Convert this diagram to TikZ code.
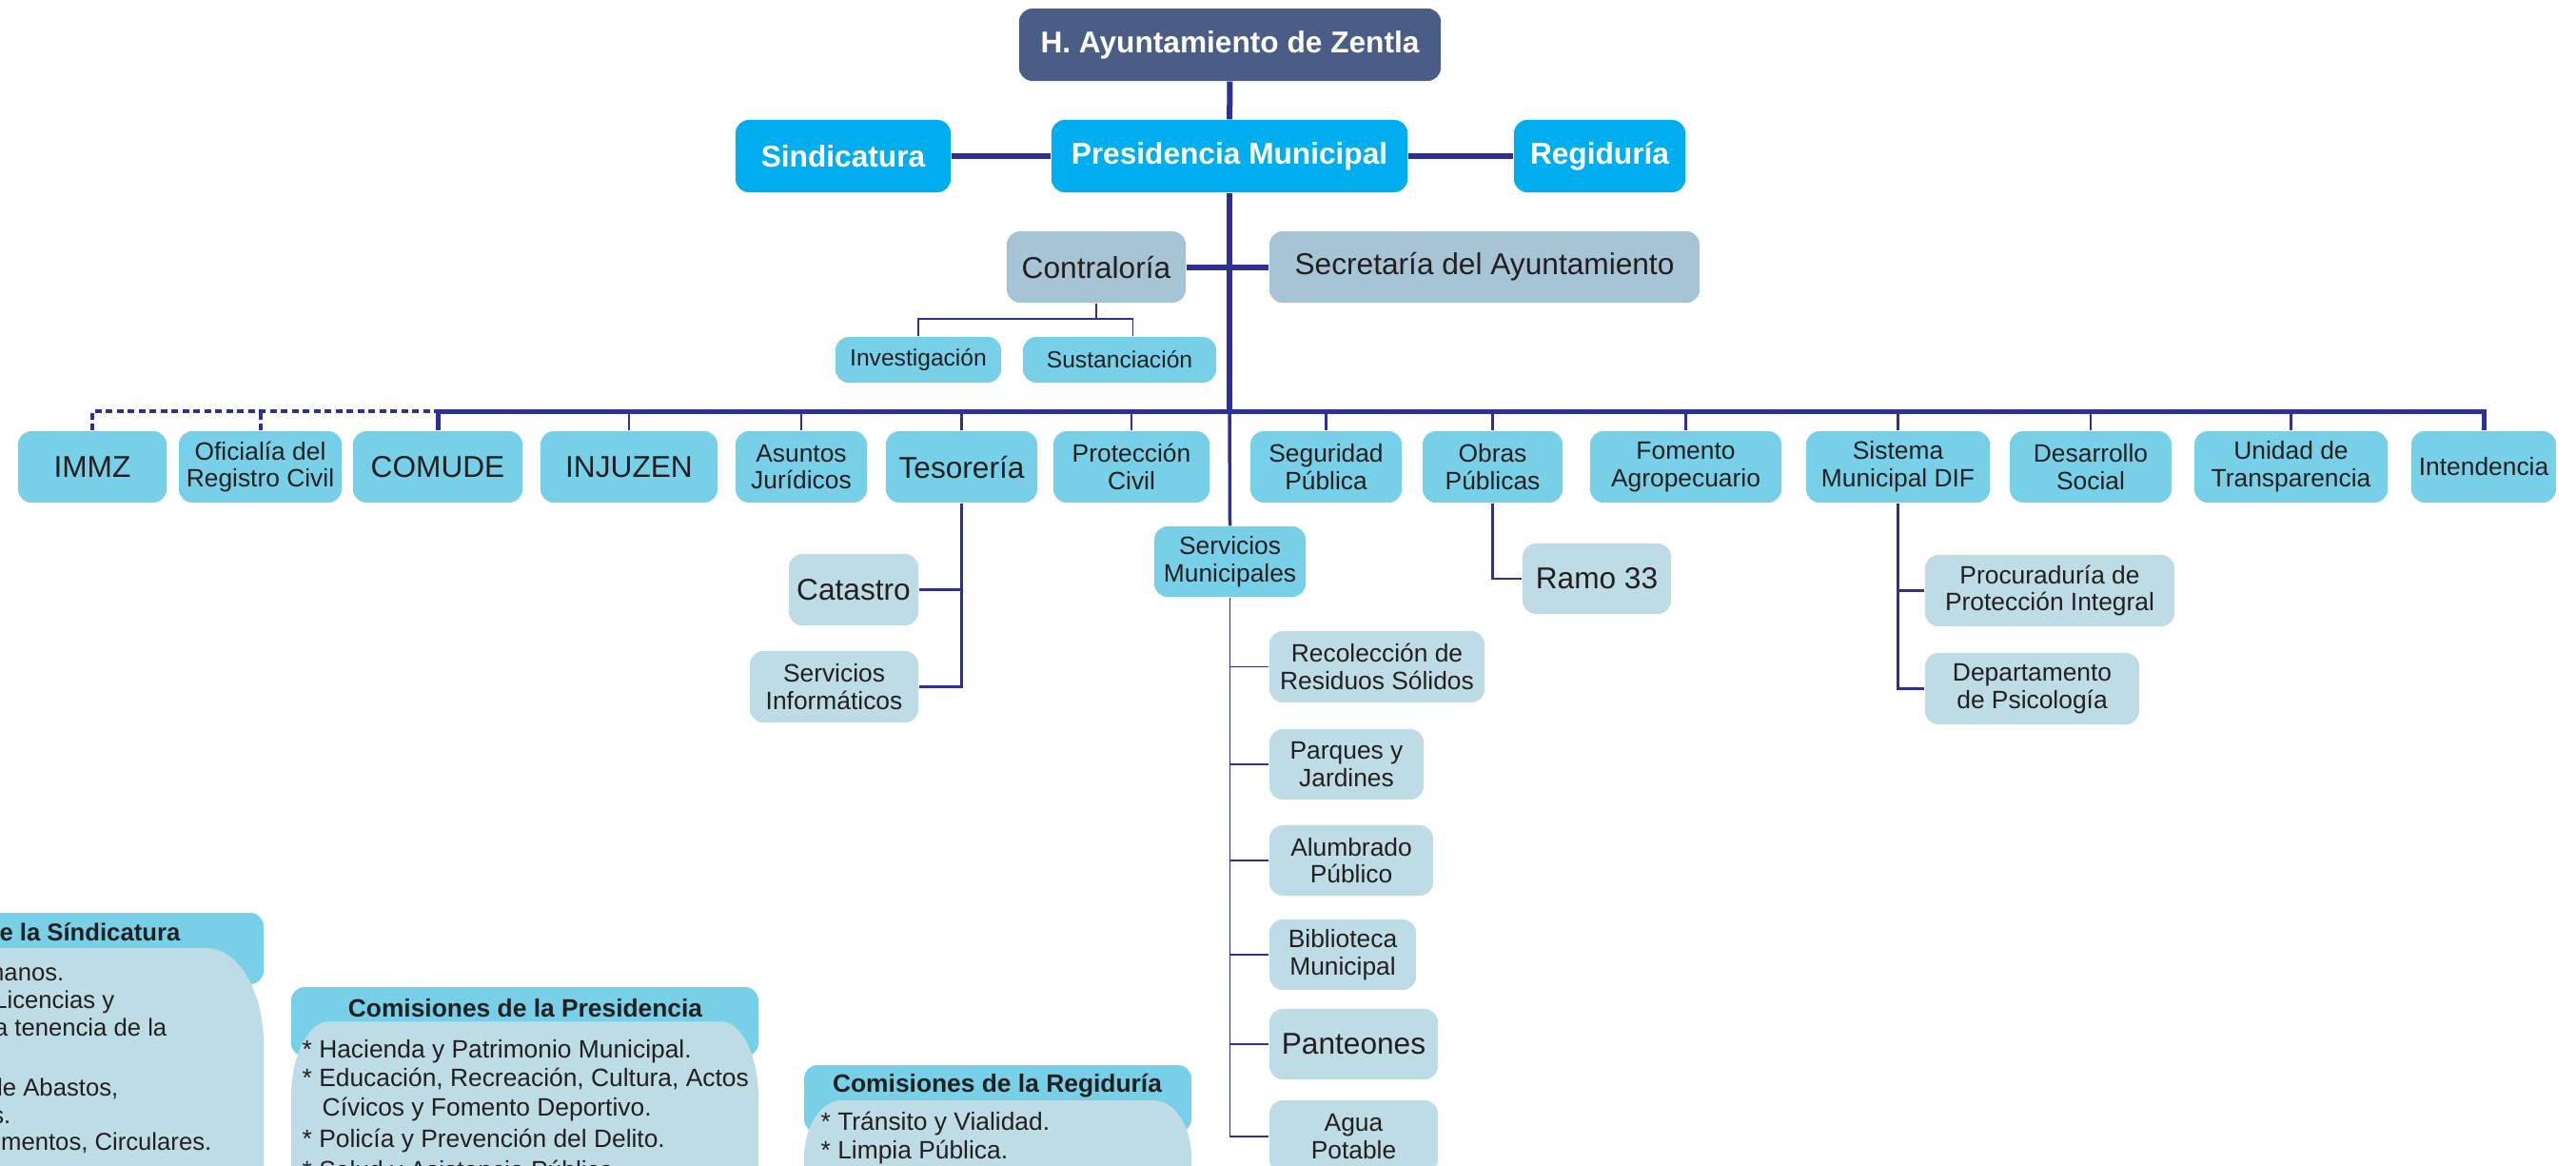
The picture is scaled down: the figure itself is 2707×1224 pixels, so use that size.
\documentclass[tikz,border=0pt]{standalone}
\usepackage{fontspec}
\setmainfont{Liberation Sans}

\definecolor{ayun}   {RGB}{74,93,135}
\definecolor{mando}  {RGB}{0,174,239}
\definecolor{apoyo}  {RGB}{167,196,212}
\definecolor{area}   {RGB}{120,208,232}
\definecolor{subarea}{RGB}{190,220,230}
\definecolor{linea}  {RGB}{46,49,146}
\definecolor{letra}  {RGB}{35,31,32}

\tikzset{
  caja/.style={rounded corners=0.14cm, inner sep=0pt, align=center,
               minimum height=0.75cm, text=letra},
  grande/.style={font=\fontsize{9}{10.8}\selectfont},
  chica/.style={font=\fontsize{7.5}{8.2}\selectfont},
  mini/.style={font=\fontsize{7}{8}\selectfont},
  cabeza/.style={caja, fill=ayun, text=white, font=\fontsize{9}{10.8}\selectfont\bfseries},
  mandobox/.style={caja, fill=mando, text=white, font=\fontsize{9}{10.8}\selectfont\bfseries},
  apoyobox/.style={caja, grande, fill=apoyo},
  areabox/.style={caja, fill=area},
  subbox/.style={caja, fill=subarea},
  texto/.style={inner sep=0pt, text=letra, font=\fontsize{7.5}{9}\selectfont},
  textosind/.style={inner sep=0pt, text=letra, font=\fontsize{7.3}{9}\selectfont},
  grueso/.style={draw=linea, line width=0.06cm},
  barra/.style={draw=linea, line width=0.05cm},
  medio/.style={draw=linea, line width=0.035cm},
  rama/.style={draw=linea, line width=0.025cm},
  fino/.style={draw=linea, line width=0.018cm},
  punteado/.style={draw=linea, line width=0.04cm, dash pattern=on 0.07cm off 0.045cm},
}

\begin{document}
\begin{tikzpicture}[x=0.01cm, y=-0.01cm]
    \useasboundingbox (0,0) rectangle (2707,1224);
    \clip (0,0) rectangle (2707,1224);

    % mando
    \node[cabeza, minimum width=4.43cm, minimum height=0.76cm] (ayto) at (1292.5,47) {H. Ayuntamiento de Zentla};
    \node[mandobox, minimum width=2.26cm, minimum height=0.76cm] (sind) at (886,164) {Sindicatura};
    \node[mandobox, minimum width=3.74cm, minimum height=0.76cm] (pres) at (1292,164) {Presidencia Municipal};
    \node[mandobox, minimum width=1.80cm, minimum height=0.76cm] (regi) at (1681,164) {Regiduría};

    \node[apoyobox, minimum width=1.88cm] (contra) at (1152,280.5) {Contraloría};
    \node[apoyobox, minimum width=4.52cm] (secre) at (1560,280.5) {Secretaría del Ayuntamiento};
    \node[areabox, mini, minimum width=1.74cm, minimum height=0.48cm] (inves) at (965,378) {Investigación};
    \node[areabox, mini, minimum width=2.03cm, minimum height=0.48cm] (susta) at (1176.5,378) {Sustanciación};

    % areas
    \node[areabox, grande, minimum width=1.56cm] (immz) at (97,490.5) {IMMZ};
    \node[areabox, chica, minimum width=1.71cm] (ofic) at (273.5,490.5) {Oficialía del\\Registro Civil};
    \node[areabox, grande, minimum width=1.78cm] (comude) at (460,490.5) {COMUDE};
    \node[areabox, grande, minimum width=1.86cm] (injuzen) at (661,490.5) {INJUZEN};
    \node[areabox, chica, minimum width=1.38cm] (asuntos) at (842,490.5) {Asuntos\\Jurídicos};
    \node[areabox, grande, minimum width=1.59cm] (teso) at (1010.5,490.5) {Tesorería};
    \node[areabox, chica, minimum width=1.64cm] (prote) at (1189,490.5) {Protección\\Civil};
    \node[areabox, chica, minimum width=1.59cm] (segu) at (1393.5,490.5) {Seguridad\\Pública};
    \node[areabox, chica, minimum width=1.47cm] (obras) at (1568.5,490.5) {Obras\\Públicas};
    \node[areabox, chica, minimum width=2.01cm] (fomento) at (1771.5,490.5) {Fomento\\Agropecuario};
    \node[areabox, chica, minimum width=1.93cm] (dif) at (1994.5,490.5) {Sistema\\Municipal DIF};
    \node[areabox, chica, minimum width=1.70cm] (desarrollo) at (2197,490.5) {Desarrollo\\Social};
    \node[areabox, chica, minimum width=2.03cm] (transp) at (2407.5,490.5) {Unidad de\\Transparencia};
    \node[areabox, chica, minimum width=1.52cm] (intend) at (2610,490.5) {Intendencia};
    \node[areabox, chica, minimum width=1.59cm, minimum height=0.74cm] (servmun) at (1292.5,590) {Servicios\\Municipales};

    % sub areas
    \node[subbox, grande, minimum width=1.36cm] (catastro) at (897,619.5) {Catastro};
    \node[subbox, chica, minimum width=1.77cm] (servinf) at (876.5,721.5) {Servicios\\Informáticos};
    \node[subbox, grande, minimum width=1.56cm, minimum height=0.74cm] (ramo) at (1678,608) {Ramo 33};
    \node[subbox, chica, minimum width=2.62cm] (procu) at (2154,620.5) {Procuraduría de\\Protección Integral};
    \node[subbox, chica, minimum width=2.25cm] (depto) at (2135.5,723.5) {Departamento\\de Psicología};
    \node[subbox, chica, minimum width=2.26cm] (recol) at (1447,700.5) {Recolección de\\Residuos Sólidos};
    \node[subbox, chica, minimum width=1.62cm, minimum height=0.74cm] (parques) at (1415,803) {Parques y\\Jardines};
    \node[subbox, chica, minimum width=1.72cm, minimum height=0.74cm] (alumb) at (1420,904) {Alumbrado\\Público};
    \node[subbox, chica, minimum width=1.54cm, minimum height=0.74cm] (biblio) at (1411,1003) {Biblioteca\\Municipal};
    \node[subbox, grande, minimum width=1.77cm, minimum height=0.74cm] (panteo) at (1422.5,1097) {Panteones};
    \node[subbox, chica, minimum width=1.77cm, minimum height=0.76cm] (agua) at (1422.5,1194) {Agua\\Potable};

    % lineas de mando
    \coordinate (busL) at (462,432);
    \coordinate (cnudo) at (1152,335);
    \draw[grueso] (ayto) -- (pres);
    \draw[grueso] (sind) -- (pres) -- (regi);
    \draw[grueso] (pres.south) -- (pres.south |- busL);
    \draw[grueso] (contra) -- (secre);
    \draw[medio] (pres.south |- busL) -- (servmun.north);
    \draw[fino] (contra.south) -- (cnudo);
    \draw[fino] (inves.north) |- (cnudo) -| ([xshift=0.14cm]susta.north);

    \draw[barra] (comude.north) |- (intend.north |- busL) -- (intend.north);
    \draw[punteado] (immz.north) |- (comude.north |- busL);
    \draw[punteado] (ofic.north) -- (ofic.north |- busL);
    \foreach \n in {injuzen,asuntos,teso,prote,segu,obras,fomento,dif,desarrollo,transp}
        \draw[rama] (\n.north) -- (\n.north |- busL);

    \draw[rama] (teso.south) |- (servinf.east);
    \draw[rama] (catastro.east) -- (catastro.east -| teso.south);
    \draw[rama] (obras.south) |- (ramo.west);
    \draw[rama] (dif.south) |- (depto.west);
    \draw[rama] (procu.west) -- (procu.west -| dif.south);
    \draw[fino] (servmun.south) |- (agua.west);
    \foreach \n in {recol,parques,alumb,biblio,panteo}
        \draw[fino] (\n.west) -- (\n.west -| servmun.south);

    % comisiones de la sindicatura
    \fill[area, rounded corners=0.14cm] (-100,959) rectangle (277,1034);
    \fill[subarea] (-100,1300) -- (-100,996) -- (217,996)
        arc[start angle=270, end angle=360, x radius=60, y radius=100] -- (277,1300) -- cycle;
    \node[textosind, anchor=base east, font=\fontsize{7.3}{9}\selectfont\bfseries] (sindT) at (190,988) {e la Síndicatura};
    \node[textosind, anchor=base east] (sind1) at (68,1030) {manos.};
    \node[textosind, anchor=base east] (sind2) at (121,1059) {Licencias y};
    \node[textosind, anchor=base east] (sind3) at (176,1088) {a tenencia de la};
    \node[textosind, anchor=base east] (sind4) at (125,1151) {de Abastos,};
    \node[textosind, anchor=base east] (sind5) at (12,1180) {s.};
    \node[textosind, anchor=base east] (sind6) at (223,1208) {mentos, Circulares.};

    % comisiones de la presidencia
    \fill[area, rounded corners=0.14cm] (306,1037) rectangle (797,1110);
    \fill[subarea] (306,1300) -- (306,1153)
        arc[start angle=180, end angle=270, x radius=40, y radius=80] -- (757,1073)
        arc[start angle=270, end angle=360, x radius=40, y radius=80] -- (797,1300) -- cycle;
    \node[texto, anchor=base, font=\fontsize{7.5}{9}\selectfont\bfseries] (presT) at (552,1068) {Comisiones de la Presidencia};
    \node[texto, anchor=base west] (pres1) at (317,1111) {* Hacienda y Patrimonio Municipal.};
    \node[texto, anchor=base west] (pres2) at (317,1141) {* Educación, Recreación, Cultura, Actos};
    \node[texto, anchor=base west] (pres3) at (338,1172) {Cívicos y Fomento Deportivo.};
    \node[texto, anchor=base west] (pres4) at (317,1205) {* Policía y Prevención del Delito.};
    \node[texto, anchor=base west] (pres5) at (317,1238) {* Salud y Asistencia Pública.};

    % comisiones de la regiduria
    \fill[area, rounded corners=0.14cm] (845,1119) rectangle (1252,1190);
    \fill[subarea] (845,1300) -- (845,1216)
        arc[start angle=180, end angle=270, x radius=40, y radius=60] -- (1212,1156)
        arc[start angle=270, end angle=360, x radius=40, y radius=60] -- (1252,1300) -- cycle;
    \node[texto, anchor=base, font=\fontsize{7.5}{9}\selectfont\bfseries] (regiT) at (1048,1147) {Comisiones de la Regiduría};
    \node[texto, anchor=base west] (regi1) at (862,1187) {* Tránsito y Vialidad.};
    \node[texto, anchor=base west] (regi2) at (862,1217) {* Limpia Pública.};

  \end{tikzpicture}
\end{document}
